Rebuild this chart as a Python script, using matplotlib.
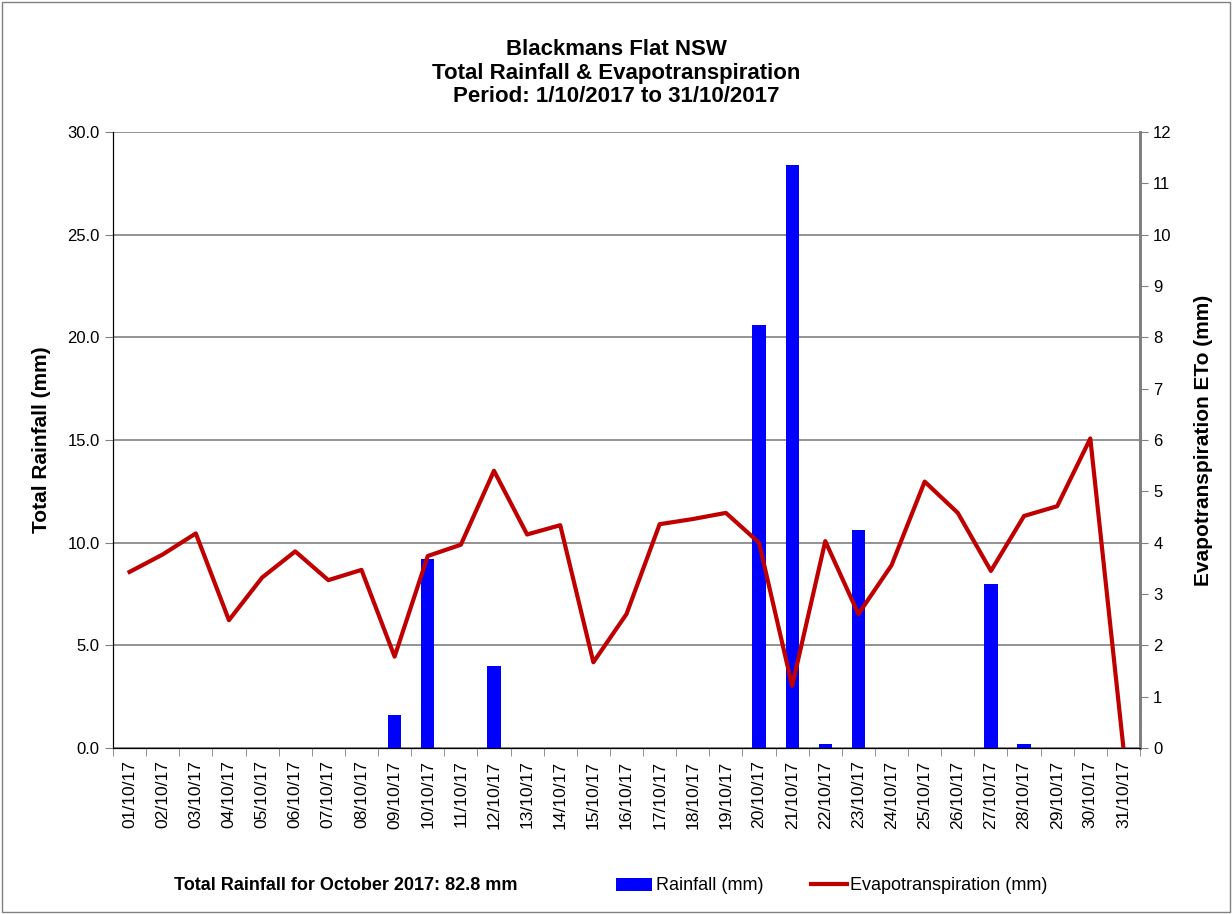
import numpy as np
import matplotlib.pyplot as plt
from matplotlib.patches import Patch
from matplotlib.lines import Line2D

plt.rcParams['font.family'] = ['Liberation Sans', 'DejaVu Sans']

days = ['%02d/10/17' % d for d in range(1, 32)]
rainfall = [0, 0, 0, 0, 0, 0, 0, 0, 1.6, 9.2, 0, 4.0, 0, 0, 0, 0, 0, 0, 0,
            20.6, 28.4, 0.2, 10.6, 0, 0, 0, 8.0, 0.2, 0, 0, 0]
eto = [3.43, 3.77, 4.18, 2.49, 3.32, 3.83, 3.27, 3.47, 1.78, 3.74, 3.96, 5.40,
       4.16, 4.34, 1.67, 2.61, 4.36, 4.46, 4.58, 4.00, 1.21, 4.03, 2.61, 3.56,
       5.19, 4.58, 3.45, 4.52, 4.71, 6.03, 0.0]

fig = plt.figure(figsize=(12.32, 9.14), dpi=100)
ax = fig.add_axes([113 / 1232, 1 - 748 / 914, (1140 - 113) / 1232, (748 - 132) / 914])
ax2 = ax.twinx()

x = np.arange(len(days))
ax.bar(x, rainfall, width=0.4, color='#0000ff', zorder=3)
ax.set_xlim(-0.5, len(days) - 0.5)
ax.set_ylim(0, 30)
ax.set_yticks(np.arange(0, 31, 5))
ax.set_yticklabels(['%.1f' % v for v in np.arange(0, 31, 5)], fontsize=12)
ax.yaxis.grid(True, color='#808080', linewidth=1.2, zorder=0)
ax.set_axisbelow(True)
ax.set_xticks(x)
ax.set_xticklabels(days, rotation=90, fontsize=12.6)
ax.set_xticks(np.arange(-0.5, len(days), 1), minor=True)
ax.tick_params(axis='x', which='major', length=0, pad=9)
ax.tick_params(axis='x', which='minor', length=6, color='#808080')
ax.tick_params(axis='y', length=6, color='#808080')
ax.set_ylabel('Total Rainfall (mm)', fontsize=15, fontweight='bold', labelpad=12)

ax2.plot(x, eto, color='#c00000', linewidth=3, zorder=4, clip_on=True)
ax2.set_ylim(0, 12)
ax2.set_yticks(np.arange(0, 13, 1))
ax2.tick_params(axis='y', labelsize=12, length=6, color='#808080')
ax2.set_ylabel('Evapotranspiration ETo (mm)', fontsize=15, fontweight='bold', labelpad=16)

for a in (ax, ax2):
    a.spines['top'].set_visible(False)
    a.spines['left'].set_color('black')
    a.spines['bottom'].set_color('black')
    a.spines['right'].set_color('#808080')
    a.spines['right'].set_linewidth(2)

fig.text(0.5, 1 - 73 / 914, 'Blackmans Flat NSW\nTotal Rainfall & Evapotranspiration\nPeriod: 1/10/2017 to 31/10/2017',
         ha='center', va='center', fontsize=16, fontweight='bold', linespacing=1.15)

fig.text(346 / 1232, 1 - 886 / 914, 'Total Rainfall for October 2017: 82.8 mm',
         ha='center', va='center', fontsize=13, fontweight='bold')

handles = [Patch(facecolor='#0000ff'), Line2D([0], [0], color='#c00000', linewidth=3)]
fig.legend(handles, ['Rainfall (mm)', 'Evapotranspiration (mm)'], loc='center',
           bbox_to_anchor=(832 / 1232, 1 - 886 / 914), ncol=2, frameon=False,
           handlelength=2.0, handletextpad=0.2, columnspacing=2.6,
           prop={'size': 13})

fig.patches.append(plt.Rectangle((0.002, 0.002), 0.996, 0.996, transform=fig.transFigure,
                                 fill=False, edgecolor='#808080', linewidth=1))

fig.savefig('out.png', dpi=100)
